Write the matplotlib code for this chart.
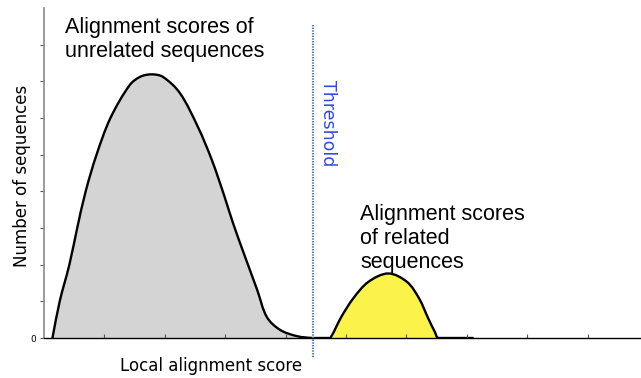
import numpy as np
import matplotlib
matplotlib.use("Agg")
import matplotlib.pyplot as plt
from matplotlib.path import Path
from matplotlib.patches import PathPatch

unrel_x = [0.14, 0.26, 0.42, 0.55, 0.69, 0.87, 1.10, 1.42, 1.60, 1.79,
           1.97, 2.25, 2.55, 2.78, 2.98, 3.13, 3.33, 3.53, 3.69, 3.91,
           4.19, 4.45, 4.72]
unrel_y = [0.0, 1.0, 2.0, 3.0, 4.0, 5.0, 6.0, 6.9, 7.13, 7.19,
           7.12, 6.68, 5.75, 4.85, 3.90, 3.13, 2.21, 1.31, 0.57, 0.22,
           0.05, 0.0, 0.0]

# score distribution of related sequences
rel_x = [4.74, 4.80, 4.91, 5.12, 5.37, 5.70, 6.01, 6.21, 6.36, 6.47, 6.53, 7.1]
rel_y = [0.0, 0.17, 0.54, 1.08, 1.53, 1.76, 1.53, 1.08, 0.54, 0.17, 0.0, 0.0]

threshold = 4.45
XPX, YPX = 60.4, 36.7  # pixels per unit, used to keep the curves round on screen


def smooth_path(xs, ys, closed=False):
    # chord-length Catmull-Rom through the points, as cubic Bezier segments
    p = np.column_stack([np.asarray(xs) * XPX, np.asarray(ys) * YPX])
    n = len(p)
    d = np.hypot(*np.diff(p, axis=0).T)
    tang = np.zeros_like(p)
    for i in range(n):
        if i == 0:
            tang[i] = (p[1] - p[0]) / d[0]
        elif i == n - 1:
            tang[i] = (p[-1] - p[-2]) / d[-1]
        else:
            tang[i] = (p[i + 1] - p[i - 1]) / (d[i - 1] + d[i])
    verts = [p[0]]
    codes = [Path.MOVETO]
    for i in range(n - 1):
        c1 = p[i] + tang[i] * d[i] / 3
        c2 = p[i + 1] - tang[i + 1] * d[i] / 3
        c1[1] = max(c1[1], 0)
        c2[1] = max(c2[1], 0)
        verts += [c1, c2, p[i + 1]]
        codes += [Path.CURVE4] * 3
    if closed:
        verts += [p[0], p[0]]
        codes += [Path.LINETO, Path.CLOSEPOLY]
    verts = np.array(verts) / [XPX, YPX]
    return Path(verts, codes)


fig = plt.figure(figsize=(6.41, 3.78), dpi=100)
ax = fig.add_axes([44 / 641, 40 / 378, 597 / 641, 330 / 378])

for xs, ys, fc in [(unrel_x, unrel_y, "#d4d4d4"), (rel_x, rel_y, "#fbf24a")]:
    ax.add_patch(PathPatch(smooth_path(xs, ys, closed=True), fc=fc, lw=0))
    ax.add_patch(PathPatch(smooth_path(xs, ys), fc="none", ec="black",
                           lw=1.7, capstyle="round", joinstyle="round"))

ax.plot([threshold, threshold], [-0.52, 8.53], color="#4a78b8", lw=1.6,
        ls=(0, (0.6, 0.6)), clip_on=False)
ax.text(threshold + 0.1, 7.03, "Threshold", rotation=-90, color="#3346ee",
        fontsize=12.5, ha="left", va="top", family="DejaVu Sans")

ax.text(0.35, 8.75, "Alignment scores of\nunrelated sequences", fontsize=15.5,
        family="Liberation Sans", va="top", ha="left", linespacing=1.2)
ax.text(5.24, 3.66, "Alignment scores\nof related\nsequences", fontsize=15.5,
        family="Liberation Sans", va="top", ha="left", linespacing=1.2)

ax.set_xlim(0, 597 / XPX)
ax.set_ylim(0, 9)
ax.set_xticks(range(1, 10))
ax.set_xticklabels([])
ax.set_yticks(range(0, 9))
ax.set_yticklabels(["0"] + [""] * 8, fontsize=6.5)
ax.tick_params(axis="x", direction="in", length=3, width=0.8, color="#555555")
ax.tick_params(axis="y", direction="out", length=3, width=0.8, color="#555555", pad=3)

for s in ["top", "right"]:
    ax.spines[s].set_visible(False)
ax.spines["left"].set_color("#8a8a8a")
ax.spines["left"].set_linewidth(1.2)
ax.spines["bottom"].set_color("black")
ax.spines["bottom"].set_linewidth(1.0)

fig.text(211 / 641, 1 - 366 / 378, "Local alignment score", fontsize=12,
         family="DejaVu Sans", ha="center", va="center")
fig.text(22 / 641, 1 - 176 / 378, "Number of sequences", fontsize=12,
         family="DejaVu Sans", ha="center", va="center", rotation=90)

fig.savefig("out.png", dpi=100)
